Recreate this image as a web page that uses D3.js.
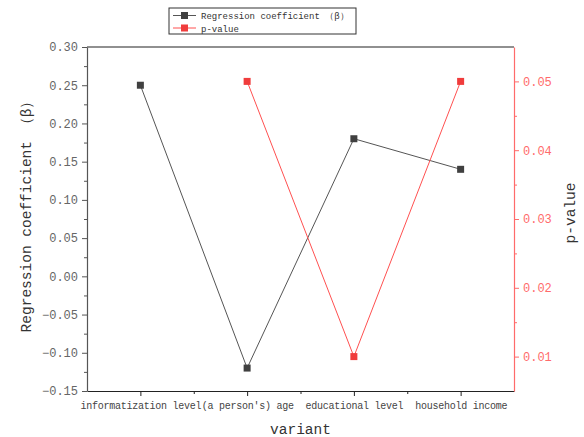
<!DOCTYPE html>
<meta charset="utf-8">
<style>
  body { margin: 0; background: #fff; }
  text { font-family: "Liberation Mono", "DejaVu Sans Mono", monospace; }
</style>
<body>
<div id="chart"></div>
<script src="https://d3js.org/d3.v7.min.js"></script>
<script>

// data
var variants = ["informatization level", "(a person's) age", "educational level", "household income"];
var beta = [0.25, -0.12, 0.18, 0.14];
var pValue = [null, 0.05, 0.01, 0.05];
var betaTicks = [-0.15, -0.10, -0.05, 0.00, 0.05, 0.10, 0.15, 0.20, 0.25, 0.30];
var pTicks = [0.01, 0.02, 0.03, 0.04, 0.05];

var W = 584, H = 437;
var margin = {top: 47, right: 70, bottom: 46, left: 87};
var width = W - margin.left - margin.right,
    height = H - margin.top - margin.bottom;

var black = "#404040", red = "#f03c3c", redAxis = "#ff6b6b";

var svg = d3.select("#chart").append("svg")
    .attr("width", W).attr("height", H);
var g = svg.append("g")
    .attr("transform", "translate(" + margin.left + "," + margin.top + ")");

var x = d3.scaleLinear().domain([0.5, 4.5]).range([0, width]);
var y = d3.scaleLinear().domain([-0.15, 0.30]).range([height, 0]);
var y2 = d3.scaleLinear().domain([0.005, 0.055]).range([height, 0]);

// top frame line
g.append("line")
    .attr("x1", 0).attr("x2", width).attr("y1", 0).attr("y2", 0)
    .attr("stroke", "#222").attr("stroke-width", 1.2);

// bottom axis
var xAxis = g.append("g")
    .attr("transform", "translate(0," + height + ")")
    .call(d3.axisBottom(x).tickValues([1, 2, 3, 4])
      .tickFormat(function(d) { return variants[d - 1]; })
      .tickSize(5).tickSizeOuter(0).tickPadding(6));
xAxis.select(".domain").attr("stroke", "#222").attr("stroke-width", 1.2);
xAxis.selectAll("line").attr("stroke", "#222");
xAxis.selectAll("text").attr("fill", "#444").style("font-size", "10px")
    .style("letter-spacing", "-0.25px");
g.append("g")
    .attr("transform", "translate(0," + height + ")")
    .call(d3.axisBottom(x).tickValues([1.5, 2.5, 3.5]).tickSize(3).tickFormat(""))
    .call(function(s) { s.select(".domain").remove(); s.selectAll("line").attr("stroke", "#222"); });

// left axis
var yAxis = g.append("g")
    .call(d3.axisLeft(y).tickValues(betaTicks).tickFormat(d3.format(".2f"))
      .tickSize(5).tickSizeOuter(0).tickPadding(4));
yAxis.select(".domain").attr("stroke", "#555").attr("stroke-width", 1.2);
yAxis.selectAll("line").attr("stroke", "#555");
yAxis.selectAll("text").attr("fill", "#666").style("font-size", "12px")
    .text(function(d) { return d3.format(".2f")(d).replace("-", "\u2212"); });
g.append("g")
    .call(d3.axisLeft(y).tickValues(d3.range(-0.125, 0.3, 0.05)).tickSize(3).tickFormat(""))
    .call(function(s) { s.select(".domain").remove(); s.selectAll("line").attr("stroke", "#555"); });

// right axis
var y2Axis = g.append("g")
    .attr("transform", "translate(" + width + ",0)")
    .call(d3.axisRight(y2).tickValues(pTicks).tickFormat(d3.format(".2f"))
      .tickSize(5).tickSizeOuter(0).tickPadding(4));
y2Axis.select(".domain").attr("stroke", redAxis).attr("stroke-width", 1.2);
y2Axis.selectAll("line").attr("stroke", redAxis);
y2Axis.selectAll("text").attr("fill", redAxis).style("font-size", "12px");
g.append("g")
    .attr("transform", "translate(" + width + ",0)")
    .call(d3.axisRight(y2).tickValues([0.015, 0.025, 0.035, 0.045]).tickSize(3).tickFormat(""))
    .call(function(s) { s.select(".domain").remove(); s.selectAll("line").attr("stroke", redAxis); });

// axis titles
svg.append("text")
    .attr("transform", "translate(31,213) rotate(-90)")
    .attr("text-anchor", "middle").attr("fill", "#333")
    .style("font-size", "14.5px")
    .text("Regression coefficient \uff08\u03b2\uff09");
svg.append("text")
    .attr("transform", "translate(575,213) rotate(-90)")
    .attr("text-anchor", "middle").attr("fill", "#333")
    .style("font-size", "14.5px")
    .text("p-value");
svg.append("text")
    .attr("x", margin.left + width / 2).attr("y", 434)
    .attr("text-anchor", "middle").attr("fill", "#333")
    .style("font-size", "14.5px")
    .text("variant");

// series
function drawSeries(vals, scale, lineColor, markColor) {
  var pts = vals.map(function(v, i) { return {i: i + 1, v: v}; })
    .filter(function(d) { return d.v !== null; });
  g.append("path").datum(pts)
    .attr("fill", "none").attr("stroke", lineColor).attr("stroke-width", 1)
    .attr("d", d3.line().x(function(d) { return x(d.i); }).y(function(d) { return scale(d.v); }));
  g.selectAll(null).data(pts).enter().append("rect")
    .attr("x", function(d) { return x(d.i) - 3.5; })
    .attr("y", function(d) { return scale(d.v) - 3.5; })
    .attr("width", 7).attr("height", 7)
    .attr("fill", markColor);
}
drawSeries(beta, y, "#555", black);
drawSeries(pValue, y2, "#ff5050", red);

// legend
var lg = svg.append("g").attr("transform", "translate(169,8)");
lg.append("rect").attr("width", 187).attr("height", 26)
    .attr("fill", "#fff").attr("stroke", "#333").attr("stroke-width", 1);
var items = [
  {name: "Regression coefficient \uff08\u03b2\uff09", line: "#555", mark: black},
  {name: "p-value", line: "#ff5050", mark: red}
];
items.forEach(function(d, i) {
  var yy = 7.5 + i * 12.5;
  lg.append("line").attr("x1", 4).attr("x2", 27).attr("y1", yy).attr("y2", yy)
    .attr("stroke", d.line).attr("stroke-width", 1);
  lg.append("rect").attr("x", 12).attr("y", yy - 3.5).attr("width", 7).attr("height", 7)
    .attr("fill", d.mark);
  lg.append("text").attr("x", 32).attr("y", yy + 3.5)
    .attr("fill", "#333").style("font-size", "9px").text(d.name);
});

</script>
</body>
